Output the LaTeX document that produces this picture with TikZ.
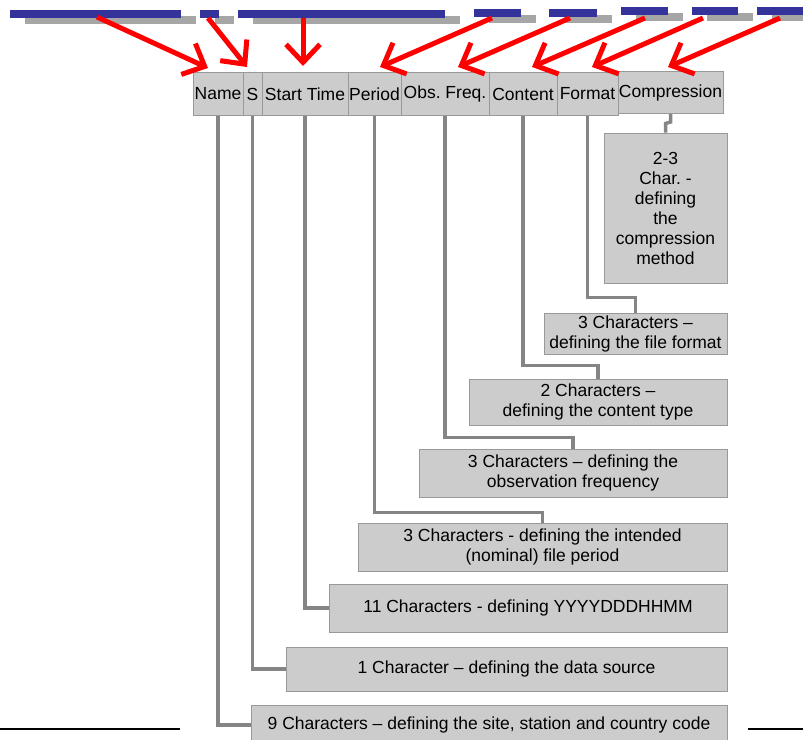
\documentclass[tikz,border=0pt]{standalone}
\usepackage{fontspec}
\setmainfont{Liberation Sans}
\usetikzlibrary{arrows.meta,calc}
\definecolor{boxfill}{HTML}{CCCCCC}
\definecolor{boxline}{HTML}{999999}
\definecolor{connc}{HTML}{858585}
\definecolor{barblue}{HTML}{333399}
\definecolor{barshadow}{HTML}{A6A6A6}
\begin{document}
\frenchspacing
\begin{tikzpicture}[x=1pt,y=-1pt,
 hdr/.style={draw=boxline, fill=boxfill, line width=1pt, inner sep=0pt, minimum height=43pt, font=\fontsize{17.5}{20}\selectfont},
 desc/.style={draw=boxline, fill=boxfill, line width=1pt, inner sep=0pt, align=center, font=\fontsize{17.5}{20}\selectfont},
 conn/.style={draw=connc, line width=3.5pt},
 redarr/.style={draw=red, line width=5pt, -{Straight Barb[length=18pt,width=34pt]}},
 barb/.style={fill=barblue},
 bshadow/.style={fill=barshadow}]
\useasboundingbox (0,0) rectangle (803,739);

% top bars (shadow, then blue)
\foreach \xa/\xb/\ya in {10/181/10, 200/219/10, 238/445/10, 474/521/9, 549/597/9, 621/668/7, 692/738/7, 757/820/7}{
  \fill[bshadow] (\xa+15,\ya+6) rectangle (\xb+15,\ya+14);
  \fill[barb] (\xa,\ya) rectangle (\xb,\ya+8);
}

% header nodes
\node[hdr, minimum width=50pt] (hname) at (218,94) {Name};
\node[hdr, minimum width=19pt] (hs) at (252.5,94) {S};
\node[hdr, minimum width=86pt] (hstart) at (305,94) {Start Time};
\node[hdr, minimum width=53pt] (hper) at (374.5,94) {Period};
\node[hdr, minimum width=88pt] (hobs) at (445,94) {Obs. Freq.};
\node[hdr, minimum width=68pt] (hcont) at (523,94) {Content};
\node[hdr, minimum width=61pt] (hfmt) at (587.5,94) {Format};
\node[hdr, minimum width=105pt, minimum height=42pt] (hcomp) at (670.5,92.5) {Compression};

% description nodes
\node[desc, minimum width=123pt, minimum height=150pt] (dcomp) at (665.5,208) {2-3\\Char. -\\defining\\the\\compression\\method};
\node[desc, minimum width=183pt, minimum height=41pt] (dfmt) at (635.5,333.5) {3 Characters --\\defining the file format};
\node[desc, minimum width=258pt, minimum height=46pt] (dcont) at (598,402) {2 Characters --\\defining the content type};
\node[desc, minimum width=308pt, minimum height=48pt] (dobs) at (573,473) {3 Characters -- defining the\\observation frequency};
\node[desc, minimum width=369pt, minimum height=48pt] (dper) at (542.5,547) {3 Characters - defining the intended\\(nominal) file period};
\node[desc, minimum width=398pt, minimum height=48pt] (dstart) at (528,608) {11 Characters - defining YYYYDDDHHMM};
\node[desc, minimum width=441pt, minimum height=44pt] (ds) at (506.5,669) {1 Character -- defining the data source};
\node[desc, minimum width=476pt, minimum height=40pt] (dname) at (489,725) {9 Characters -- defining the site, station and country code};

% connectors
\draw[conn] (hcomp.south) -- ++(0,8) -- ($(dcomp.north)+(0,-9)$) -- (dcomp.north);
\draw[conn] (hfmt.south) |- ($(dfmt.north)+(0,-15)$) -- (dfmt.north);
\draw[conn] (hcont.south) |- ($(dcont.north)+(0,-13)$) -- (dcont.north);
\draw[conn] (hobs.south) |- ($(dobs.north)+(0,-11)$) -- (dobs.north);
\draw[conn] (hper.south) |- ($(dper.north)+(0,-10)$) -- (dper.north);
\draw[conn] (hstart.south) |- (dstart.west);
\draw[conn] (hs.south) |- (ds.west);
\draw[conn] (hname.south) |- (dname.west);

% red arrows
\coordinate (s1) at (97,17);  \coordinate (t1) at (208,68);
\coordinate (s2) at (208,18); \coordinate (t2) at (247,67);
\coordinate (s3) at (303,18); \coordinate (t3) at (303,66);
\coordinate (s4) at (492,18); \coordinate (t4) at (380,67);
\coordinate (s5) at (570,18); \coordinate (t5) at (458,67);
\coordinate (s6) at (645,18); \coordinate (t6) at (532,67);
\coordinate (s7) at (703,18); \coordinate (t7) at (592,67);
\coordinate (s8) at (780,18); \coordinate (t8) at (668,67);
\foreach \i in {1,...,8}{\draw[redarr] (s\i) -- (t\i);}

% bottom rules
\coordinate (r1) at (0,729); \coordinate (r2) at (180,729);
\coordinate (r3) at (748,729); \coordinate (r4) at (803,729);
\draw[line width=1.5pt] (r1) -- (r2);
\draw[line width=1.5pt] (r3) -- (r4);
\end{tikzpicture}
\end{document}
